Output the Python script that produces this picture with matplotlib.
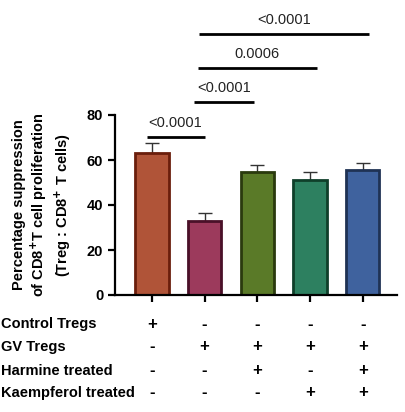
import matplotlib.pyplot as plt
import numpy as np

plt.rcParams['font.family'] = ['Liberation Sans', 'DejaVu Sans']

groups = ['Control', 'GV', 'GV+Harmine', 'GV+Kaempferol', 'GV+Both']
means = [63.0, 32.8, 54.8, 51.2, 55.6]
errs = [4.4, 3.6, 2.8, 3.3, 3.0]
fills = ['#B05438', '#9C3A5C', '#5A7A28', '#2D8060', '#3F629E']
edges = ['#6A1E0C', '#4A1028', '#2A3A0E', '#0F3F2A', '#1F3254']

row_labels = ['Control Tregs', 'GV Tregs', 'Harmine treated', 'Kaempferol treated']
signs = [['+', '-', '-', '-', '-'],
         ['-', '+', '+', '+', '+'],
         ['-', '-', '+', '-', '+'],
         ['-', '-', '-', '+', '+']]

# (start, end, y, label)
comparisons = [(-0.1, 1.0, 70.2, '<0.0001'),
               (0.8, 1.93, 85.8, '<0.0001'),
               (0.87, 3.13, 100.9, '0.0006'),
               (0.89, 4.11, 116.0, '<0.0001')]

fig = plt.figure(figsize=(4.06, 4.12), dpi=100)
ax = fig.add_axes([115/406, 1 - 295/412, (397 - 115)/406, (295 - 115)/412])

x = np.arange(len(groups))
ax.bar(x, means, width=0.63, color=fills, edgecolor=edges, linewidth=2, zorder=2)
ax.errorbar(x, means, yerr=[np.zeros(len(errs)), errs], fmt='none',
            ecolor='#333333', elinewidth=1, capsize=5, capthick=1, zorder=1)

ax.set_xlim(-0.7, 4.65)
ax.set_ylim(0, 80)
ax.set_yticks([0, 20, 40, 60, 80])
ax.set_xticks(x)
ax.set_xticklabels([])
for s in ['top', 'right']:
    ax.spines[s].set_visible(False)
for s in ['left', 'bottom']:
    ax.spines[s].set_linewidth(1.6)
ax.tick_params(axis='both', width=1.6, length=5, labelsize=10.5)
for lab in ax.get_yticklabels():
    lab.set_fontweight('bold')

ax.set_ylabel('Percentage suppression\nof CD8$^{\\mathbf{+}}$T cell proliferation\n(Treg : CD8$^{\\mathbf{+}}$ T cells)',
              fontsize=10.5, fontweight='bold', labelpad=10, linespacing=1.2)

for x0, x1, y, lab in comparisons:
    ax.plot([x0, x1], [y, y], color='black', lw=2, clip_on=False, solid_capstyle='butt')
    ax.text((x0 + x1) / 2, y + 3, lab, ha='center', va='bottom', fontsize=10.5,
            color='#222222')

trans = ax.get_xaxis_transform()
row_y = [324, 347, 371, 393]
for r, lab in enumerate(row_labels):
    fig.text(1/406, 1 - row_y[r]/412, lab, ha='left', va='center',
             fontsize=10.5, fontweight='bold')
    for c in range(len(groups)):
        yy = -(row_y[r] - 295) / 180
        ax.text(x[c], yy, signs[r][c], ha='center', va='center',
                fontsize=12, fontweight='bold', transform=trans, clip_on=False)

fig.savefig('out.png', dpi=100)
